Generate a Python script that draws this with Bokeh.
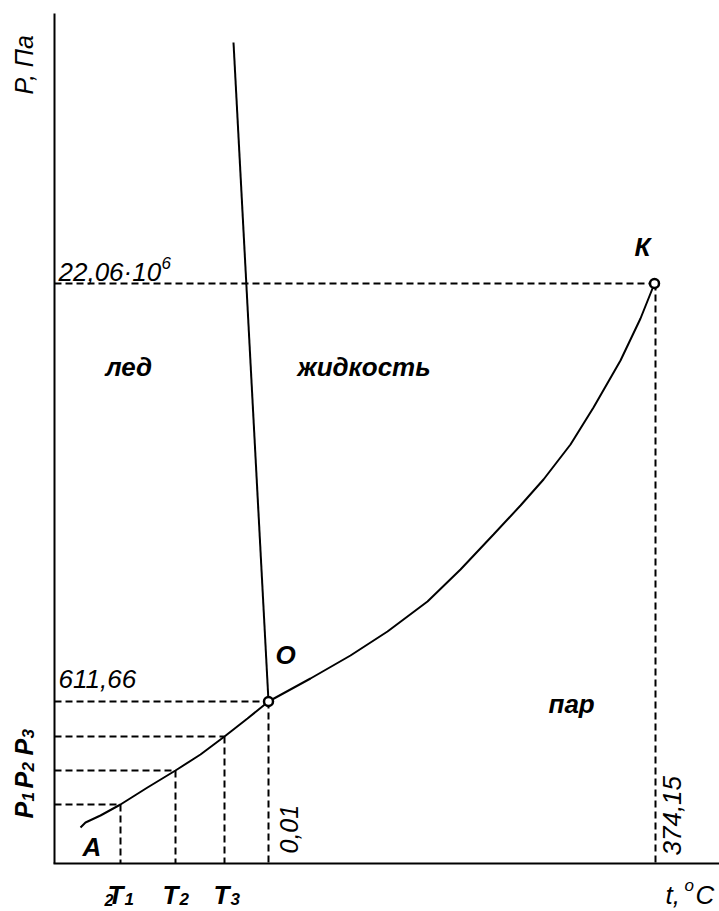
import math
from bokeh.plotting import figure
from bokeh.models import Range1d
from bokeh.core.properties import value
from bokeh.embed import file_html
from bokeh.resources import INLINE

# Schematic phase diagram of water, drawn in a page-like coordinate frame
# (t grows to the right, P grows upwards; the y range is flipped so the
# frame units run top-down like the sheet the diagram sits on).

# axes of the diagram
axis_p_t = [54, 54]
axis_p_p = [13, 863]
axis_t_t = [53, 719]
axis_t_p = [863, 863]

# melting curve (ice / liquid)
melt_t = [233, 268]
melt_p = [42, 701]

# sublimation curve A -> O (ice / vapour)
subl_t = [80, 85, 100, 120, 147, 175, 200, 224, 247, 268]
subl_p = [827, 822, 815, 804, 787, 770, 754, 736, 718, 701]

# vaporisation curve O -> K (liquid / vapour)
vap_t = [268, 310, 350, 387, 427, 460, 493, 520, 543, 570, 593, 620, 640, 654]
vap_p = [701, 678, 655, 631, 601, 569, 534, 505, 479, 444, 407, 360, 318, 283]

# special points: triple point O and critical point K
point_t = [268, 654]
point_p = [701, 283]

# reference levels
level_t = [120, 175, 224, 268, 655]     # T1, T2, T3, 0.01 °C, 374.15 °C
level_p = [804, 770, 736, 701, 283]     # P1, P2, P3, 611.66 Pa, 22.06e6 Pa

FONT = "Liberation Sans"
BLACK = "#000000"
# the svg text box sits a little low on its anchor; lift it back
LIFT = 9

p = figure(width=719, height=911, output_backend="svg", toolbar_location=None,
           x_axis_location=None, y_axis_location=None,
           x_range=Range1d(0, 719), y_range=Range1d(911, 0),
           min_border=0, outline_line_color=None,
           background_fill_color="white", border_fill_color="white")
p.grid.visible = False

# dashed guides from each level to both axes
for t, pr in zip(level_t, level_p):
    p.line([axis_p_t[0], t], [pr, pr], line_color=BLACK, line_width=2, line_dash="7 4")
    p.line([t, t], [pr, axis_t_p[0]], line_color=BLACK, line_width=2, line_dash="7 4")

# axes
p.line(axis_p_t, axis_p_p, line_color=BLACK, line_width=2)
p.line(axis_t_t, axis_t_p, line_color=BLACK, line_width=2)

# phase boundaries
p.line(melt_t, melt_p, line_color=BLACK, line_width=2)
p.line(subl_t, subl_p, line_color=BLACK, line_width=2)
p.line(vap_t, vap_p, line_color=BLACK, line_width=2)

p.scatter(point_t, point_p, marker="circle", size=9, fill_color="white",
          line_color=BLACK, line_width=2.5)


UP = math.pi / 2


def label(x, y, s, size=26, style="italic", angle=0.0):
    if angle:
        x -= LIFT
    else:
        y -= LIFT
    p.text([x], [y], text=[s], text_font=value(FONT), text_font_size=f"{size}px",
           text_font_style=style, text_color=BLACK, text_align="left",
           text_baseline="alphabetic", angle=angle)


# axis titles
label(32, 94, "P, Па", size=25, angle=UP)
label(665, 903, "t,")
label(684, 894, "o", size=17)
label(695, 903, "C")

# pressure values
label(58, 280, "22,06·10")
label(161, 271, "6", size=17)
label(58, 687, "611,66")

# temperature values (vertical)
label(297, 853, "0,01", size=25, angle=UP)
label(680, 855, "374,15", size=26, angle=UP)

# region and point names
label(105, 375, "лед", style="bold italic")
label(297, 375, "жидкость", style="bold italic")
label(548, 712, "пар", style="bold italic")
label(634, 255, "К", style="bold italic")
label(275, 663, "O", style="bold italic")
label(82, 855, "A", style="bold italic")

# P1, P2, P3 along the pressure axis
for y0, sub in [(818, "1"), (788, "2"), (755, "3")]:
    label(32, y0, "P", size=25, style="bold italic", angle=UP)
    label(36, y0 - 17, sub, size=17, style="bold italic", angle=UP)

# T1, T2, T3 along the temperature axis
label(104, 908, "2", size=16, style="bold italic")
for x0, sub in [(107, "1"), (162, "2"), (213, "3")]:
    label(x0, 903, "T", style="bold italic")
    label(x0 + 17, 907, sub, size=17, style="bold italic")

open("out.html", "w").write(file_html(p, INLINE))
